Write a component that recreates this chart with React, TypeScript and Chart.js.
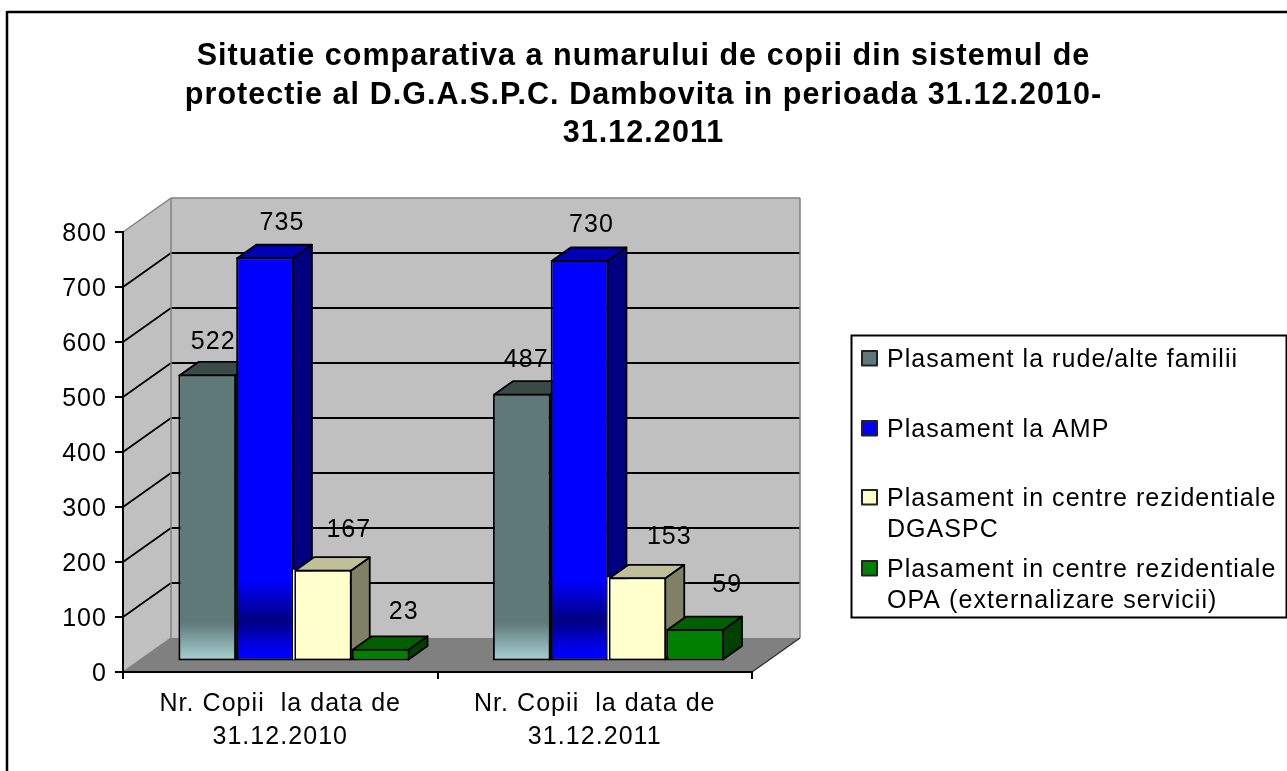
import React, { useEffect, useRef } from "react";
import { Chart, registerables, layouts } from "chart.js";

Chart.register(...registerables);

const categories = [
  ["Nr. Copii  la data de", "31.12.2010"],
  ["Nr. Copii  la data de", "31.12.2011"],
];
const rude = [522, 487];
const amp = [735, 730];
const centre = [167, 153];
const opa = [23, 59];
const titleLines = [
  "Situatie comparativa a numarului de copii din sistemul de",
  "protectie al D.G.A.S.P.C. Dambovita in perioada 31.12.2010-",
  "31.12.2011",
];
const legendLabels = [
  ["Plasament la rude/alte familii"],
  ["Plasament la AMP"],
  ["Plasament in centre rezidentiale", "DGASPC"],
  ["Plasament in centre rezidentiale", "OPA (externalizare servicii)"],
];

const FONT = '"Liberation Sans", Arial, sans-serif';
const W = 1287;
const H = 771;
const WALL_DX = 48;
const WALL_DY = 34;
const PLANE_DX = 13.7;
const PLANE_DY = 10.5;
const BAR_DX = 19;
const BAR_DY = 13.5;
const BW = 2;

const faces = [
  { top: "#3a4a48", side: "#2f3c3c", swatch: "#5f7878" },
  { top: "#0000b4", side: "#000080", swatch: "#0000ff" },
  { top: "#bfbf99", side: "#808066", swatch: "#ffffcc" },
  { top: "#005f00", side: "#004000", swatch: "#008000" },
];
// label centre relative to the top-centre of each bar's front face: [dx, dy] per series per category
const labelNudges = [
  [[6, -32], [4.5, -34]],
  [[17, -34], [12, -35]],
  [[26, -40], [32, -40]],
  [[23, -37], [32, -44]],
];

function gradient(chart: any, stops: [number, string][], fallback: string) {
  const y = chart.scales && chart.scales.y;
  if (!y || !chart.chartArea) return fallback;
  const g = chart.ctx.createLinearGradient(0, y.getPixelForValue(0), 0, y.getPixelForValue(800));
  stops.forEach(([p, c]) => g.addColorStop(p, c));
  return g;
}

const rudeFill = (c: any) =>
  gradient(c.chart, [[0, "#a8d4d4"], [0.09, "#5f7878"], [1, "#5f7878"]], "#5f7878");
const ampFill = (c: any) =>
  gradient(c.chart, [[0, "#0000ff"], [0.03, "#0000f0"], [0.093, "#000080"], [0.184, "#0000ff"], [1, "#0000ff"]], "#0000ff");

function poly(ctx: CanvasRenderingContext2D, pts: number[][], fill: string | null, stroke: string | null, lw = 1.5) {
  ctx.beginPath();
  pts.forEach((p, i) => (i ? ctx.lineTo(p[0], p[1]) : ctx.moveTo(p[0], p[1])));
  ctx.closePath();
  if (fill) {
    ctx.fillStyle = fill;
    ctx.fill();
  }
  if (stroke) {
    ctx.strokeStyle = stroke;
    ctx.lineWidth = lw;
    ctx.lineJoin = "round";
    ctx.stroke();
  }
}

function line(ctx: CanvasRenderingContext2D, x0: number, y0: number, x1: number, y1: number, color: string, lw: number) {
  ctx.beginPath();
  ctx.moveTo(x0, y0);
  ctx.lineTo(x1, y1);
  ctx.strokeStyle = color;
  ctx.lineWidth = lw;
  ctx.stroke();
}

const scene3d = {
  id: "scene3d",
  beforeInit(chart: any) {
    const box: any = {
      position: "right",
      weight: 0,
      fullSize: false,
      options: {},
      width: 535,
      height: 0,
      isHorizontal: () => false,
      update(_w: number, h: number) {
        box.width = 535;
        box.height = h;
      },
      draw() {
        const ctx = chart.ctx;
        ctx.save();
        ctx.fillStyle = "#fff";
        ctx.fillRect(851, 335, 435, 282);
        ctx.strokeStyle = "#000";
        ctx.lineWidth = 2;
        ctx.strokeRect(851.5, 335.5, 435, 282);
        const rows = [358, 428, 497, 568];
        const textShift = 2;
        const step = 31;
        ctx.font = `25px ${FONT}`;
        ctx.textBaseline = "middle";
        ctx.textAlign = "left";
        legendLabels.forEach((lines, i) => {
          poly(ctx, [[862, rows[i] - 7], [877, rows[i] - 7], [877, rows[i] + 7.5], [862, rows[i] + 7.5]], faces[i].swatch, "#222", 2);
          ctx.fillStyle = "#000";
          lines.forEach((t, j) => ctx.fillText(t, 887, rows[i] + textShift + j * step));
        });
        ctx.restore();
      },
    };
    layouts.addBox(chart, box);
  },
  beforeDraw(chart: any) {
    const ctx = chart.ctx;
    const { left, right } = chart.chartArea;
    const y = chart.scales.y;
    const y0 = y.getPixelForValue(0);
    const yMax = y.getPixelForValue(800);
    ctx.letterSpacing = "1.05px";
    ctx.save();
    ctx.fillStyle = "#fff";
    ctx.fillRect(0, 0, W, H);
    line(ctx, 7, 12, W, 12, "#000", 2.5);
    line(ctx, 7, 11, 7, H, "#000", 2.5);

    poly(ctx, [[left, y0], [left + WALL_DX, y0 - WALL_DY], [left + WALL_DX, yMax - WALL_DY], [left, yMax]], "#c0c0c0", null);
    poly(ctx, [[left + WALL_DX, y0 - WALL_DY], [right + WALL_DX, y0 - WALL_DY], [right + WALL_DX, yMax - WALL_DY], [left + WALL_DX, yMax - WALL_DY]], "#c0c0c0", null);
    poly(ctx, [[left, y0], [right, y0], [right + WALL_DX, y0 - WALL_DY], [left + WALL_DX, y0 - WALL_DY]], "#808080", null);

    y.ticks.forEach((t: any) => {
      if (t.value === 0 || t.value === 800) return;
      const p = y.getPixelForValue(t.value);
      line(ctx, left, p, left + WALL_DX, p - WALL_DY, "#000", 1.8);
      line(ctx, left + WALL_DX, p - WALL_DY, right + WALL_DX, p - WALL_DY, "#000", 1.8);
    });
    line(ctx, left, yMax, left + WALL_DX, yMax - WALL_DY, "#808080", 1.5);
    line(ctx, left + WALL_DX, yMax - WALL_DY, right + WALL_DX, yMax - WALL_DY, "#808080", 1.5);
    line(ctx, left + WALL_DX, yMax - WALL_DY, left + WALL_DX, y0 - WALL_DY, "#808080", 1.5);
    line(ctx, right + WALL_DX, yMax - WALL_DY, right + WALL_DX, y0 - WALL_DY, "#808080", 1.5);
    line(ctx, left, y0, left + WALL_DX, y0 - WALL_DY, "#808080", 1.5);
    line(ctx, right, y0, right + WALL_DX, y0 - WALL_DY, "#333", 1.5);
    ctx.restore();
  },
  beforeDatasetsDraw(chart: any) {
    const ctx = chart.ctx;
    const n = chart.data.labels.length;
    const sets = chart.data.datasets.length;
    const inset = BW / 2;
    for (let c = 0; c < n; c++) {
      for (let s = 0; s < sets; s++) {
        const bar = chart.getDatasetMeta(s).data[c];
        const l = bar.x - bar.width / 2 + inset;
        const r = bar.x + bar.width / 2 - inset;
        const t = bar.y + inset;
        const b = bar.base - inset;
        ctx.save();
        ctx.translate(PLANE_DX, -PLANE_DY);
        poly(ctx, [[r, t], [r + BAR_DX, t - BAR_DY], [r + BAR_DX, b - BAR_DY], [r, b]], faces[s].side, "#000", 1.8);
        poly(ctx, [[l, t], [l + BAR_DX, t - BAR_DY], [r + BAR_DX, t - BAR_DY], [r, t]], faces[s].top, "#000", 1.8);
        bar.draw(ctx);
        if (s === 2) line(ctx, l - 1.2, t - 1, l - 1.2, b, "#fff", 1.5);
        ctx.restore();
      }
    }
    ctx.save();
    ctx.font = `25px ${FONT}`;
    ctx.fillStyle = "#000";
    ctx.textAlign = "center";
    ctx.textBaseline = "middle";
    for (let c = 0; c < n; c++) {
      for (let s = 0; s < sets; s++) {
        const bar = chart.getDatasetMeta(s).data[c];
        const [dx, dy] = labelNudges[s][c];
        ctx.fillText(String(chart.data.datasets[s].data[c]), bar.x + PLANE_DX + dx, bar.y - PLANE_DY + dy);
      }
    }
    ctx.restore();
    return false;
  },
};

export default function App() {
  const ref = useRef<HTMLCanvasElement>(null);
  useEffect(() => {
    if (!ref.current) return;
    const barOpts = {
      borderColor: "#000",
      borderWidth: BW,
      borderSkipped: false,
      categoryPercentage: 0.735,
      barPercentage: 1,
    };
    const chart = new Chart(ref.current, {
      type: "bar",
      data: {
        labels: categories as any,
        datasets: [
          { label: legendLabels[0].join(" "), data: rude, backgroundColor: rudeFill, ...barOpts },
          { label: legendLabels[1].join(" "), data: amp, backgroundColor: ampFill, ...barOpts },
          { label: legendLabels[2].join(" "), data: centre, backgroundColor: faces[2].swatch, ...barOpts },
          { label: legendLabels[3].join(" "), data: opa, backgroundColor: faces[3].swatch, ...barOpts },
        ] as any,
      },
      options: {
        responsive: false,
        animation: false,
        events: [],
        layout: { padding: 0, autoPadding: false },
        plugins: {
          legend: { display: false },
          tooltip: { enabled: false },
          title: {
            display: true,
            text: titleLines,
            color: "#000",
            font: { family: FONT, size: 30.5, weight: "bold", lineHeight: 38.5 / 30.5 },
            padding: { top: 37.5, bottom: 79 },
          },
        },
        scales: {
          x: {
            afterFit: (s: any) => {
              s.height = 99;
            },
            grid: { offset: true, drawOnChartArea: false, color: "#000", lineWidth: 2, tickLength: 7 },
            border: { display: true, color: "#000", width: 2 },
            ticks: {
              color: "#000",
              font: { family: FONT, size: 25, lineHeight: 32.5 / 25 },
              autoSkip: false,
              maxRotation: 0,
              minRotation: 0,
              padding: 9,
            },
          },
          y: {
            min: 0,
            max: 800,
            afterFit: (s: any) => {
              s.width = 123;
            },
            grid: { drawOnChartArea: false, color: "#000", lineWidth: 2, tickLength: 8 },
            border: { display: true, color: "#000", width: 2 },
            ticks: {
              stepSize: 100,
              color: "#000",
              font: { family: FONT, size: 25 },
              padding: 8,
              labelOffset: 2,
            },
          },
        },
      } as any,
      plugins: [scene3d as any],
    });
    return () => chart.destroy();
  }, []);
  return (
    <div style={{ position: "fixed", left: 0, top: 0, width: W, height: H }}>
      <canvas ref={ref} width={W} height={H} style={{ display: "block" }} />
    </div>
  );
}
